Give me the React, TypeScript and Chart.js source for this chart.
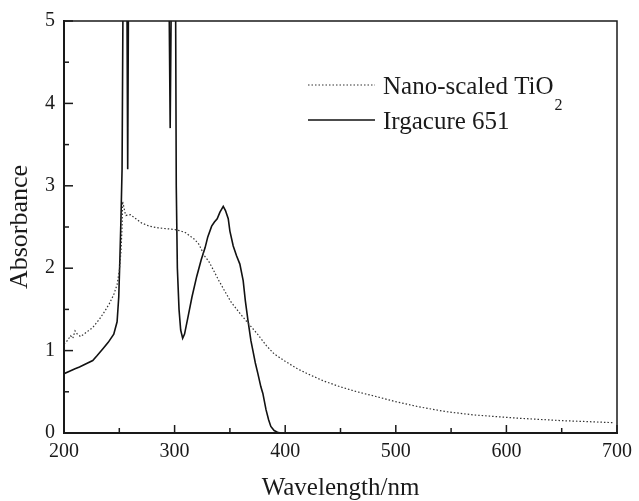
import { useEffect, useRef } from 'react';
import { Chart, registerables } from 'chart.js';

Chart.register(...registerables);

// Irgacure 651 (solid line); values above 5 are off-scale (saturated detector)
const irgWavelength = [
  200, 205, 210, 214, 220, 226, 230, 235, 240, 245, 248, 249.5, 250.5, 251.5, 252.5, 253.5,
  256.8, 257.6, 258.4, 259.5, 294.8, 296, 297.2, 300.8, 301.5, 302.5, 304, 305.5, 307.3, 309,
  312, 315.7, 320, 324, 327.6, 330, 333.5, 336, 338.5, 341, 344, 346, 348.5, 350, 353, 356,
  359, 362, 364, 366.4, 369, 370.8, 373, 375.3, 378, 379.8, 382.7, 385, 387, 390, 393, 396,
];
const irgAbsorbance = [
  0.72, 0.75, 0.78, 0.8, 0.84, 0.88, 0.94, 1.02, 1.1, 1.2, 1.35, 1.65, 2.1, 2.6, 3.2, 5.6,
  5.6, 3.2, 5.6, 5.6, 5.6, 3.7, 5.6, 5.6, 3.0, 2.0, 1.5, 1.25, 1.15, 1.2,
  1.4, 1.65, 1.9, 2.1, 2.25, 2.38, 2.51, 2.56, 2.6, 2.68, 2.75, 2.7, 2.6, 2.45, 2.27, 2.15,
  2.05, 1.85, 1.6, 1.36, 1.12, 1.0, 0.85, 0.72, 0.56, 0.48, 0.28, 0.16, 0.08, 0.03, 0.01, 0,
];

// Nano-scaled TiO2 (dotted line)
const tioWavelength = [
  200, 203, 206, 208, 210, 212, 215, 220, 226, 232, 237, 241, 245, 248, 250, 251.5, 252.5,
  253, 254, 255, 256, 260, 265, 270, 277, 285, 292, 300, 306, 310, 314, 318, 322, 327, 331,
  335, 340, 345, 351, 358, 366, 375, 383, 390, 400, 411, 420, 435, 450, 465, 480, 500, 520,
  545, 570, 590, 610, 630, 650, 670, 697,
];
const tioAbsorbance = [
  1.08, 1.12, 1.18, 1.15, 1.24, 1.2, 1.17, 1.22, 1.28, 1.38, 1.48, 1.57, 1.68, 1.8, 1.97, 2.2, 2.5,
  2.81, 2.75, 2.68, 2.64, 2.65, 2.6, 2.55, 2.51, 2.49, 2.48, 2.47, 2.45, 2.43, 2.39, 2.35, 2.29, 2.15, 2.08,
  1.98, 1.85, 1.73, 1.59, 1.47, 1.34, 1.2, 1.06, 0.96, 0.87, 0.78, 0.72, 0.63, 0.56, 0.5, 0.45, 0.38, 0.32,
  0.26, 0.22, 0.2, 0.18, 0.165, 0.15, 0.14, 0.125,
];

const seriesNames = ['Nano-scaled TiO', 'Irgacure 651'];
const seriesSubscripts = ['2', ''];
const xMajorTicks = [200, 300, 400, 500, 600, 700];
const xMinorTicks = [250, 350, 450, 550, 650];
const yMajorTicks = [0, 1, 2, 3, 4, 5];
const yMinorTicks = [0.5, 1.5, 2.5, 3.5, 4.5];

const INK = '#1a1a1a';
const SERIF = "'Liberation Serif', 'DejaVu Serif', serif";

const framePlugin = {
  id: 'frameAndTicks',
  afterDraw(chart: any) {
    const { ctx, chartArea: a, scales } = chart;
    const xs = scales.x;
    const ys = scales.y;
    ctx.save();
    ctx.strokeStyle = INK;
    ctx.lineWidth = 1.5;
    ctx.strokeRect(a.left, a.top, a.right - a.left, a.bottom - a.top);
    ctx.lineWidth = 1.5;
    const tick = (x1: number, y1: number, x2: number, y2: number) => {
      ctx.beginPath();
      ctx.moveTo(x1, y1);
      ctx.lineTo(x2, y2);
      ctx.stroke();
    };
    xMajorTicks.forEach((v) => { const p = xs.getPixelForValue(v); tick(p, a.bottom, p, a.bottom - 8); });
    xMinorTicks.forEach((v) => { const p = xs.getPixelForValue(v); tick(p, a.bottom, p, a.bottom - 5); });
    yMajorTicks.forEach((v) => { const p = ys.getPixelForValue(v); tick(a.left, p, a.left + 9, p); });
    yMinorTicks.forEach((v) => { const p = ys.getPixelForValue(v); tick(a.left, p, a.left + 5, p); });

    // legend
    const rows = [a.top + 64, a.top + 99];
    const lx1 = a.left + 244;
    const lx2 = a.left + 311;
    const tx = a.left + 319;
    chart.data.datasets.forEach((ds: any, i: number) => {
      const y = rows[i];
      ctx.strokeStyle = ds.borderColor;
      ctx.lineWidth = ds.borderWidth;
      ctx.setLineDash(ds.borderDash || []);
      tick(lx1, y, lx2, y);
      ctx.setLineDash([]);
      ctx.fillStyle = INK;
      ctx.textAlign = 'left';
      ctx.textBaseline = 'alphabetic';
      ctx.font = `25px ${SERIF}`;
      ctx.fillText(seriesNames[i], tx, y + 9);
      if (seriesSubscripts[i]) {
        const w = ctx.measureText(seriesNames[i]).width;
        ctx.font = `16px ${SERIF}`;
        ctx.fillText(seriesSubscripts[i], tx + w + 1, y + 25);
      }
    });
    ctx.restore();
  },
};

export default function App() {
  const ref = useRef<HTMLCanvasElement>(null);
  useEffect(() => {
    if (!ref.current) return;
    const chart = new Chart(ref.current, {
      type: 'line',
      data: {
        datasets: [
          {
            label: seriesNames[0] + seriesSubscripts[0],
            data: tioWavelength.map((x, i) => ({ x, y: tioAbsorbance[i] })),
            borderColor: '#333333',
            borderWidth: 1.2,
            borderDash: [1.5, 2],
            pointRadius: 0,
            tension: 0,
            clip: 0,
          },
          {
            label: seriesNames[1],
            data: irgWavelength.map((x, i) => ({ x, y: irgAbsorbance[i] })),
            borderColor: '#111111',
            borderWidth: 1.6,
            pointRadius: 0,
            tension: 0,
            clip: 0,
          },
        ],
      },
      options: {
        animation: false,
        responsive: false,
        layout: { padding: { top: 19, right: 16, left: 0, bottom: 0 } },
        plugins: { legend: { display: false }, tooltip: { enabled: false } },
        scales: {
          x: {
            type: 'linear',
            min: 200,
            max: 700,
            afterFit: (s: any) => { s.height = 68; },
            grid: { display: false, drawTicks: false },
            border: { display: true, color: INK, width: 2 },
            ticks: {
              stepSize: 100,
              padding: 7,
              color: INK,
              font: { family: SERIF, size: 20 },
              maxRotation: 0,
            },
            title: {
              display: true,
              text: 'Wavelength/nm',
              color: INK,
              font: { family: SERIF, size: 25 },
              padding: { top: 0, bottom: -2 },
            },
          },
          y: {
            type: 'linear',
            min: 0,
            max: 5,
            afterFit: (s: any) => { s.width = 64; },
            grid: { display: false, drawTicks: false },
            border: { display: true, color: INK, width: 2 },
            ticks: {
              stepSize: 1,
              padding: 9,
              color: INK,
              font: { family: SERIF, size: 20 },
            },
            title: {
              display: true,
              text: 'Absorbance',
              color: INK,
              font: { family: SERIF, size: 26 },
              padding: { top: 5, bottom: 0 },
            },
          },
        },
      },
      plugins: [framePlugin],
    });
    return () => chart.destroy();
  }, []);
  return (
    <div style={{ position: 'fixed', left: 0, top: 0, width: 639, height: 501, background: '#fff' }}>
      <canvas ref={ref} width={639} height={501} />
    </div>
  );
}
